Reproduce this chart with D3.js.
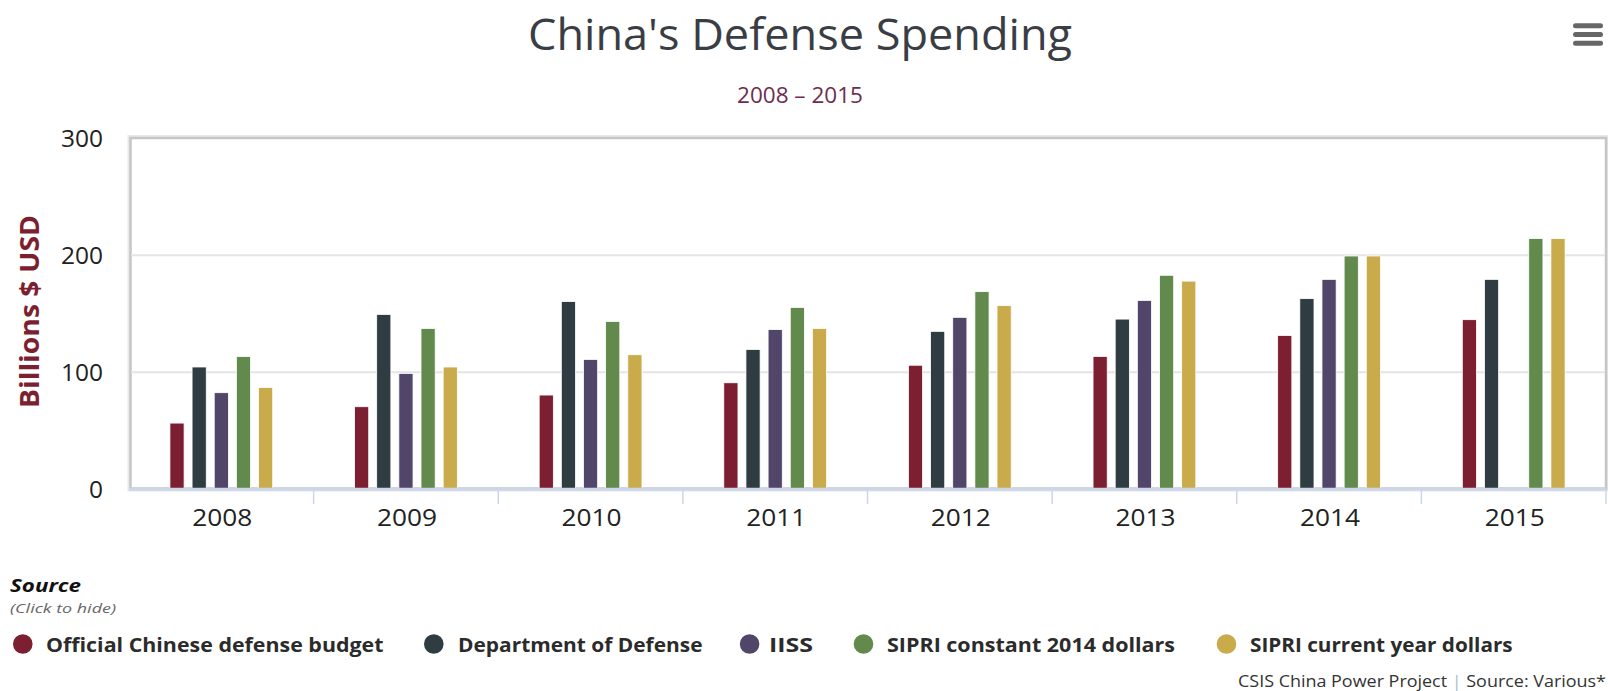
<!DOCTYPE html>
<html>
<head>
<meta charset="utf-8">
<script src="https://cdn.jsdelivr.net/npm/d3@7"></script>
<style>
  html, body { margin: 0; padding: 0; background: #ffffff; }
  svg { display: block; font-family: "Open Sans", "Noto Sans", sans-serif; }
</style>
</head>
<body>
<svg id="chart" width="1608" height="691"></svg>
<script>
// Chart data: China's defense spending estimates, billions of US dollars
const years = ["2008", "2009", "2010", "2011", "2012", "2013", "2014", "2015"];
const officialBudget = [56, 70, 80, 90.5, 105.5, 113, 131, 144.5];
const dodEstimate = [104, 149, 160, 119, 134.5, 145, 162.5, 179];
const iissEstimate = [82, 98.5, 110.5, 136, 146.5, 161, 179, null];
const sipriConstant = [113, 137, 143, 155, 168.5, 182.5, 199, 214];
const sipriCurrent = [86.5, 104, 114.5, 137, 156.5, 177.5, 199, 214];
const seriesNames = [
  "Official Chinese defense budget",
  "Department of Defense",
  "IISS",
  "SIPRI constant 2014 dollars",
  "SIPRI current year dollars"
];
const seriesColors = ["#7c1f31", "#2f3c42", "#51466a", "#628a4c", "#c9ab4c"];
const yTicks = [0, 100, 200, 300];

const series = seriesNames.map((name, i) => ({
  name,
  color: seriesColors[i],
  values: [officialBudget, dodEstimate, iissEstimate, sipriConstant, sipriCurrent][i]
}));

const svg = d3.select("#chart");

// fit a text element to a target width by adjusting letter spacing
function fit(sel, w) {
  sel.attr("textLength", w).attr("lengthAdjust", "spacingAndGlyphs");
  return sel;
}

// Plot geometry
const plot = { left: 129, right: 1606, top: 138, bottom: 488.5 };

const x0 = d3.scaleBand().domain(years).range([plot.left, plot.right]).padding(0);
const groupPad = 0.2;
const x1 = d3.scaleBand()
  .domain(seriesNames)
  .range([x0.bandwidth() * groupPad, x0.bandwidth() * (1 - groupPad)])
  .padding(0);
const barW = x1.bandwidth() * 0.64;
const y = d3.scaleLinear().domain([0, 300]).range([plot.bottom, plot.top]);

// Title and subtitle
fit(svg.append("text")
  .attr("x", 800).attr("y", 50)
  .attr("text-anchor", "middle")
  .attr("font-size", 44)
  .attr("fill", "#3a3e44")
  .text("China's Defense Spending"), 544);

fit(svg.append("text")
  .attr("x", 800).attr("y", 103)
  .attr("text-anchor", "middle")
  .attr("font-size", 21)
  .attr("fill", "#6e2d4e")
  .text("2008 \u2013 2015"), 126);

// Context menu icon
const menu = svg.append("g").attr("stroke", "#666").attr("stroke-width", 5).attr("stroke-linecap", "round");
[25.7, 34.5, 43.3].forEach(yy => {
  menu.append("line").attr("x1", 1575.5).attr("x2", 1600.5).attr("y1", yy).attr("y2", yy);
});

// Plot frame
svg.append("rect")
  .attr("x", plot.left + 1.5).attr("y", plot.top)
  .attr("width", plot.right - plot.left - 1.5).attr("height", plot.bottom - plot.top)
  .attr("fill", "none").attr("stroke", "#e8e8e8").attr("stroke-width", 6);
svg.append("rect")
  .attr("x", plot.left + 1.5).attr("y", plot.top)
  .attr("width", plot.right - plot.left - 1.5).attr("height", plot.bottom - plot.top)
  .attr("fill", "#ffffff").attr("stroke", "#c6c6c6").attr("stroke-width", 2.5);

// Grid lines
const yAxis = d3.axisLeft(y).tickValues(yTicks).tickSize(-(plot.right - plot.left - 3)).tickFormat(d3.format("d"));
const gy = svg.append("g").attr("transform", `translate(${plot.left + 2},0)`).call(yAxis);
gy.select(".domain").remove();
gy.selectAll(".tick line")
  .attr("stroke", d => (d === 0 || d === 300) ? "none" : "#e4e4e4")
  .attr("stroke-width", 2);
gy.selectAll(".tick text")
  .attr("x", 103 - plot.left - 2)
  .attr("dy", "0.38em")
  .attr("font-size", 23)
  .attr("fill", "#222")
  .attr("font-family", "\"Open Sans\", sans-serif")
  .each(function (d) { d3.select(this).attr("textLength", String(d).length * 14).attr("lengthAdjust", "spacingAndGlyphs"); });

// Y axis title
fit(svg.append("text")
  .attr("transform", "translate(39,311.5) rotate(-90)")
  .attr("text-anchor", "middle")
  .attr("font-size", 27)
  .attr("font-weight", "bold")
  .attr("fill", "#7c1f31")
  .text("Billions $ USD"), 193);

// Bars
const groups = svg.append("g").selectAll("g")
  .data(years)
  .join("g")
  .attr("transform", d => `translate(${x0(d)},0)`);

groups.selectAll("rect")
  .data((yr, i) => series.map(s => ({ name: s.name, color: s.color, value: s.values[i] })).filter(d => d.value != null))
  .join("rect")
  .attr("x", d => x1(d.name) + (x1.bandwidth() - barW) / 2)
  .attr("width", barW)
  .attr("y", d => y(d.value))
  .attr("height", d => y(0) - y(d.value))
  .attr("fill", d => d.color)
  .attr("stroke", "#ffffff")
  .attr("stroke-width", 0.8);

// X axis
const xAxisLineY = 489.2;
svg.append("line")
  .attr("x1", plot.left).attr("x2", plot.right)
  .attr("y1", xAxisLineY).attr("y2", xAxisLineY)
  .attr("stroke", "#ccd6eb").attr("stroke-width", 3);

const boundaries = years.slice(1).map(d => x0(d)).concat([plot.right]);
svg.append("g").selectAll("line")
  .data(boundaries)
  .join("line")
  .attr("x1", d => d).attr("x2", d => d)
  .attr("y1", xAxisLineY).attr("y2", 504)
  .attr("stroke", "#ccd6eb").attr("stroke-width", 1.5);

svg.append("g").selectAll("text")
  .data(years)
  .join("text")
  .attr("x", d => x0(d) + x0.bandwidth() / 2 + 1)
  .attr("y", 525.7)
  .attr("text-anchor", "middle")
  .attr("font-size", 23)
  .attr("fill", "#222")
  .attr("textLength", 60)
  .attr("lengthAdjust", "spacingAndGlyphs")
  .text(d => d);

// Legend
fit(svg.append("text")
  .attr("x", 10).attr("y", 592)
  .attr("font-size", 18).attr("font-weight", "bold").attr("font-style", "italic")
  .attr("fill", "#111")
  .text("Source"), 71);
fit(svg.append("text")
  .attr("x", 10).attr("y", 612.5)
  .attr("font-size", 13).attr("font-style", "italic")
  .attr("fill", "#666")
  .text("(Click to hide)"), 106);

const legendCircleX = [22.8, 433.8, 749.6, 863.5, 1226.5];
const legendTextX = [46, 458, 769, 887, 1250];
const legendTextW = [337.5, 244.5, 44, 288, 262.6];
const legend = svg.append("g").selectAll("g")
  .data(series)
  .join("g");
legend.append("circle")
  .attr("cx", (d, i) => legendCircleX[i]).attr("cy", 644)
  .attr("r", 9.8)
  .attr("fill", d => d.color);
legend.append("text")
  .attr("x", (d, i) => legendTextX[i]).attr("y", 651.5)
  .attr("font-size", 20).attr("font-weight", "bold")
  .attr("fill", "#2b2b2b")
  .attr("textLength", (d, i) => legendTextW[i])
  .attr("lengthAdjust", "spacingAndGlyphs")
  .text(d => d.name);

// Credits
const credits = svg.append("text")
  .attr("x", 1606).attr("y", 686.5)
  .attr("text-anchor", "end")
  .attr("font-size", 16)
  .attr("fill", "#333");
credits.append("tspan").text("CSIS China Power Project ");
credits.append("tspan").attr("fill", "#a9bcd6").text("|");
credits.append("tspan").text(" Source: Various*");
fit(credits, 368);
</script>
</body>
</html>
